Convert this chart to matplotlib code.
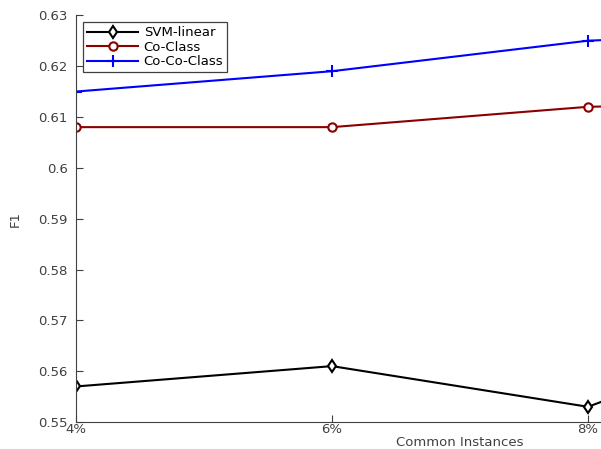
import numpy as np
import matplotlib
matplotlib.use('Agg')
import matplotlib.pyplot as plt

plt.rcParams['font.family'] = ['DejaVu Sans']

# common instances (%) and F1 scores
common = [4, 6, 8, 10]
tick_labels = ['4%', '6%', '8%', '10%']
svm_linear = [0.557, 0.561, 0.553, 0.572]
co_class = [0.608, 0.608, 0.612, 0.613]
co_co_class = [0.615, 0.619, 0.625, 0.627]

fig = plt.figure(figsize=(6.01, 4.49), dpi=100)
# axes run off the right edge of the picture, like the cropped original
ax = fig.add_axes([0.1265, 0.060, 1.278, 0.906])

ax.plot(common, svm_linear, color='black', marker='d', mfc='white', mec='black',
        ms=6.5, mew=1.5, lw=1.5, label='SVM-linear')
ax.plot(common, co_class, color='#8b0000', marker='o', mfc='white', mec='#8b0000',
        ms=6, mew=1.5, lw=1.5, label='Co-Class')
ax.plot(common, co_co_class, color='#0000ff', marker='+', ms=9, mew=1.5, lw=1.5,
        label='Co-Co-Class')

ax.set_xlim(4, 10)
ax.set_ylim(0.55, 0.63)
ax.set_xticks(common)
ax.set_xticklabels(tick_labels)
yt = np.round(np.arange(0.55, 0.6301, 0.01), 2)
ax.set_yticks(yt)
ax.set_yticklabels(['%g' % v for v in yt])

for s in ['top', 'right']:
    ax.spines[s].set_visible(False)
for s in ['left', 'bottom']:
    ax.spines[s].set_color('#404040')
ax.tick_params(direction='in', length=5, colors='#404040', labelsize=9.5)
ax.tick_params(axis='y', pad=6)
ax.tick_params(axis='x', pad=1)

ax.set_xlabel('Common Instances', fontsize=9.5, color='#404040')
ax.set_ylabel('F1', fontsize=9.5, color='#404040')
ax.xaxis.set_label_coords(0.5, -0.035)
ax.yaxis.set_label_coords(-0.071, 0.5)

leg = ax.legend(loc='upper left', bbox_to_anchor=(0.009, 0.983), borderaxespad=0,
                fontsize=9.5, fancybox=False, framealpha=1, edgecolor='#404040',
                handlelength=3.9, borderpad=0.3, labelspacing=0.12, handletextpad=0.4)
leg.get_frame().set_linewidth(0.9)

fig.savefig('out.png', dpi=100)
